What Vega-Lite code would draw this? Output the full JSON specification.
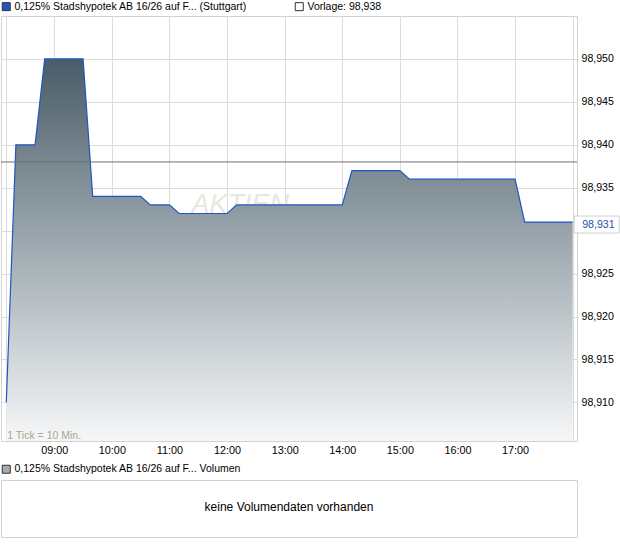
{
  "$schema": "https://vega.github.io/schema/vega-lite/v6.json",
  "background": "white",
  "padding": {"left": 0, "top": 0, "right": 0, "bottom": 0},
  "autosize": {"type": "pad"},
  "spacing": 7,
  "config": {
    "font": "Liberation Sans",
    "locale": {"number": {"decimal": ",", "thousands": ".", "grouping": [3], "currency": ["", " €"]}},
    "view": {"stroke": "#d2d2d2", "strokeWidth": 1},
    "axis": {"labelFont": "Liberation Sans", "labelColor": "#000000", "grid": true, "gridColor": "#dcdcdc", "gridWidth": 1, "gridOpacity": 1, "domain": false, "ticks": false, "title": null, "labelOverlap": false, "labelFlush": false}
  },
  "datasets": {
    "price": [
      {"t": "2024-01-01T08:10", "v": 98.910},
      {"t": "2024-01-01T08:20", "v": 98.940},
      {"t": "2024-01-01T08:30", "v": 98.940},
      {"t": "2024-01-01T08:40", "v": 98.940},
      {"t": "2024-01-01T08:50", "v": 98.950},
      {"t": "2024-01-01T09:00", "v": 98.950},
      {"t": "2024-01-01T09:10", "v": 98.950},
      {"t": "2024-01-01T09:20", "v": 98.950},
      {"t": "2024-01-01T09:30", "v": 98.950},
      {"t": "2024-01-01T09:40", "v": 98.934},
      {"t": "2024-01-01T09:50", "v": 98.934},
      {"t": "2024-01-01T10:00", "v": 98.934},
      {"t": "2024-01-01T10:10", "v": 98.934},
      {"t": "2024-01-01T10:20", "v": 98.934},
      {"t": "2024-01-01T10:30", "v": 98.934},
      {"t": "2024-01-01T10:40", "v": 98.933},
      {"t": "2024-01-01T10:50", "v": 98.933},
      {"t": "2024-01-01T11:00", "v": 98.933},
      {"t": "2024-01-01T11:10", "v": 98.932},
      {"t": "2024-01-01T11:20", "v": 98.932},
      {"t": "2024-01-01T11:30", "v": 98.932},
      {"t": "2024-01-01T11:40", "v": 98.932},
      {"t": "2024-01-01T11:50", "v": 98.932},
      {"t": "2024-01-01T12:00", "v": 98.932},
      {"t": "2024-01-01T12:10", "v": 98.933},
      {"t": "2024-01-01T12:20", "v": 98.933},
      {"t": "2024-01-01T12:30", "v": 98.933},
      {"t": "2024-01-01T12:40", "v": 98.933},
      {"t": "2024-01-01T12:50", "v": 98.933},
      {"t": "2024-01-01T13:00", "v": 98.933},
      {"t": "2024-01-01T13:10", "v": 98.933},
      {"t": "2024-01-01T13:20", "v": 98.933},
      {"t": "2024-01-01T13:30", "v": 98.933},
      {"t": "2024-01-01T13:40", "v": 98.933},
      {"t": "2024-01-01T13:50", "v": 98.933},
      {"t": "2024-01-01T14:00", "v": 98.933},
      {"t": "2024-01-01T14:10", "v": 98.937},
      {"t": "2024-01-01T14:20", "v": 98.937},
      {"t": "2024-01-01T14:30", "v": 98.937},
      {"t": "2024-01-01T14:40", "v": 98.937},
      {"t": "2024-01-01T14:50", "v": 98.937},
      {"t": "2024-01-01T15:00", "v": 98.937},
      {"t": "2024-01-01T15:10", "v": 98.936},
      {"t": "2024-01-01T15:20", "v": 98.936},
      {"t": "2024-01-01T15:30", "v": 98.936},
      {"t": "2024-01-01T15:40", "v": 98.936},
      {"t": "2024-01-01T15:50", "v": 98.936},
      {"t": "2024-01-01T16:00", "v": 98.936},
      {"t": "2024-01-01T16:10", "v": 98.936},
      {"t": "2024-01-01T16:20", "v": 98.936},
      {"t": "2024-01-01T16:30", "v": 98.936},
      {"t": "2024-01-01T16:40", "v": 98.936},
      {"t": "2024-01-01T16:50", "v": 98.936},
      {"t": "2024-01-01T17:00", "v": 98.936},
      {"t": "2024-01-01T17:10", "v": 98.931},
      {"t": "2024-01-01T17:20", "v": 98.931},
      {"t": "2024-01-01T17:30", "v": 98.931},
      {"t": "2024-01-01T17:40", "v": 98.931},
      {"t": "2024-01-01T17:50", "v": 98.931},
      {"t": "2024-01-01T18:00", "v": 98.931}
    ]
  },
  "vconcat": [
    {
      "width": 576,
      "height": 425,
      "layer": [
        {
          "data": {"values": [{}]},
          "mark": {"type": "text", "text": "AKTIEN", "align": "left", "baseline": "alphabetic", "fontSize": 27, "fontStyle": "italic", "color": "#ebe6e1"},
          "encoding": {
            "x": {"datum": {"year": 2024, "month": 1, "date": 1, "hours": 11, "minutes": 23}, "type": "temporal"},
            "y": {"datum": 98.932, "type": "quantitative"}
          }
        },
        {
          "data": {"name": "price"},
          "mark": {
            "type": "area",
            "interpolate": "linear",
            "clip": true,
            "opacity": 1,
            "fillOpacity": 1,
            "color": {"gradient": "linear", "x1": 0, "y1": 0, "x2": 0, "y2": 1, "stops": [{"offset": 0, "color": "#4a5c68"}, {"offset": 0.5, "color": "#a0abb1"}, {"offset": 1, "color": "#f6f7f8"}]},
            "line": {"color": "#1f56c3", "strokeWidth": 1.2, "clip": true, "opacity": 1}
          },
          "encoding": {
            "x": {
              "field": "t", "type": "temporal",
              "scale": {"domain": [{"year": 2024, "month": 1, "date": 1, "hours": 8, "minutes": 4, "seconds": 30}, {"year": 2024, "month": 1, "date": 1, "hours": 18, "minutes": 4, "seconds": 30}]},
              "axis": {
                "grid": true,
                "values": [
                  {"year": 2024, "month": 1, "date": 1, "hours": 8, "minutes": 10},
                  {"year": 2024, "month": 1, "date": 1, "hours": 9},
                  {"year": 2024, "month": 1, "date": 1, "hours": 10},
                  {"year": 2024, "month": 1, "date": 1, "hours": 11},
                  {"year": 2024, "month": 1, "date": 1, "hours": 12},
                  {"year": 2024, "month": 1, "date": 1, "hours": 13},
                  {"year": 2024, "month": 1, "date": 1, "hours": 14},
                  {"year": 2024, "month": 1, "date": 1, "hours": 15},
                  {"year": 2024, "month": 1, "date": 1, "hours": 16},
                  {"year": 2024, "month": 1, "date": 1, "hours": 17},
                  {"year": 2024, "month": 1, "date": 1, "hours": 18}
                ],
                "labelExpr": "hours(datum.value) >= 9 && hours(datum.value) <= 17 && minutes(datum.value) == 0 ? timeFormat(datum.value, '%H:%M') : ''",
                "labelFontSize": 10.8,
                "labelPadding": 3
              }
            },
            "y": {
              "field": "v", "type": "quantitative",
              "scale": {"domain": [98.9055, 98.955], "zero": false, "nice": false},
              "axis": {
                "grid": true,
                "orient": "right",
                "values": [98.91, 98.915, 98.92, 98.925, 98.93, 98.935, 98.94, 98.945, 98.95],
                "format": ".3f",
                "labelExpr": "abs(datum.value - 98.93) < 0.0001 ? '' : datum.label",
                "labelFontSize": 10.6,
                "labelPadding": 4
              }
            },
            "y2": {"datum": 98.9055}
          }
        },
        {
          "data": {"values": [{"v": 98.938}]},
          "mark": {"type": "rule", "color": "#6e6e6e", "strokeWidth": 1},
          "encoding": {"y": {"field": "v", "type": "quantitative"}}
        },
        {
          "data": {"values": [{"s": "0,125% Stadshypotek AB 16/26 auf F... (Stuttgart)"}, {"s": "Vorlage: 98,938"}]},
          "mark": {"type": "point", "shape": "square", "filled": true, "opacity": 0},
          "encoding": {
            "fill": {
              "field": "s", "type": "nominal",
              "scale": {"domain": ["0,125% Stadshypotek AB 16/26 auf F... (Stuttgart)", "Vorlage: 98,938"], "range": ["#1f56c3", "#ffffff"]},
              "legend": {"orient": "none", "legendX": 0, "legendY": -15, "direction": "horizontal", "title": null, "symbolType": "square", "symbolSize": 64, "symbolStrokeColor": "#333333", "symbolStrokeWidth": 1, "symbolOpacity": 1, "labelFontSize": 10.5, "labelColor": "#000000", "labelFont": "Liberation Sans", "columnPadding": 46, "labelOffset": 3, "padding": 0, "labelLimit": 400}
            }
          }
        },
        {
          "data": {"values": [{}]},
          "mark": {"type": "text", "text": "1 Tick = 10 Min.", "align": "left", "baseline": "alphabetic", "fontSize": 10.5, "color": "#ada391", "dx": 1},
          "encoding": {
            "x": {"datum": {"year": 2024, "month": 1, "date": 1, "hours": 8, "minutes": 10}, "type": "temporal"},
            "y": {"datum": 98.9057, "type": "quantitative"}
          }
        },
        {
          "data": {"name": "price"},
          "transform": [{"filter": "hours(datum.t) == 18"}],
          "mark": {"type": "point", "shape": "M-2.65,-1H2.65V1H-2.65Z", "size": 289, "filled": true, "fill": "#ffffff", "stroke": "#cfcfcf", "strokeWidth": 1, "opacity": 1, "xOffset": 24, "yOffset": 2.5},
          "encoding": {
            "x": {"field": "t", "type": "temporal"},
            "y": {"field": "v", "type": "quantitative"}
          }
        },
        {
          "data": {"name": "price"},
          "transform": [{"filter": "hours(datum.t) == 18"}],
          "mark": {"type": "text", "align": "left", "baseline": "middle", "fontSize": 10.6, "color": "#1f4fa8", "dx": 9.5, "dy": 3},
          "encoding": {
            "x": {"field": "t", "type": "temporal"},
            "y": {"field": "v", "type": "quantitative"},
            "text": {"field": "v", "type": "quantitative", "format": ".3f"}
          }
        }
      ]
    },
    {
      "width": 576,
      "height": 57,
      "view": {"stroke": "#d2d2d2", "strokeWidth": 1},
      "layer": [
        {
          "data": {"values": [{"msg": "keine Volumendaten vorhanden"}]},
          "mark": {"type": "text", "fontSize": 12, "color": "#000000", "align": "center", "baseline": "middle"},
          "encoding": {
            "text": {"field": "msg", "type": "nominal"},
            "x": {"datum": 0.5, "type": "quantitative", "scale": {"domain": [0, 1]}, "axis": null},
            "y": {"datum": 0.53, "type": "quantitative", "scale": {"domain": [0, 1]}, "axis": null}
          }
        },
        {
          "data": {"values": [{"s": "0,125% Stadshypotek AB 16/26 auf F... Volumen"}]},
          "mark": {"type": "point", "shape": "square", "filled": true, "opacity": 0},
          "encoding": {
            "fill": {
              "field": "s", "type": "nominal",
              "scale": {"domain": ["0,125% Stadshypotek AB 16/26 auf F... Volumen"], "range": ["#aaaaaa"]},
              "legend": {"orient": "none", "legendX": 0, "legendY": -16, "direction": "horizontal", "title": null, "symbolType": "square", "symbolSize": 64, "symbolStrokeColor": "#333333", "symbolStrokeWidth": 1, "symbolOpacity": 1, "labelFontSize": 10.5, "labelColor": "#000000", "labelFont": "Liberation Sans", "labelOffset": 3, "padding": 0, "labelLimit": 400}
            }
          }
        }
      ]
    }
  ],
  "resolve": {"scale": {"fill": "independent"}, "legend": {"fill": "independent"}}
}
